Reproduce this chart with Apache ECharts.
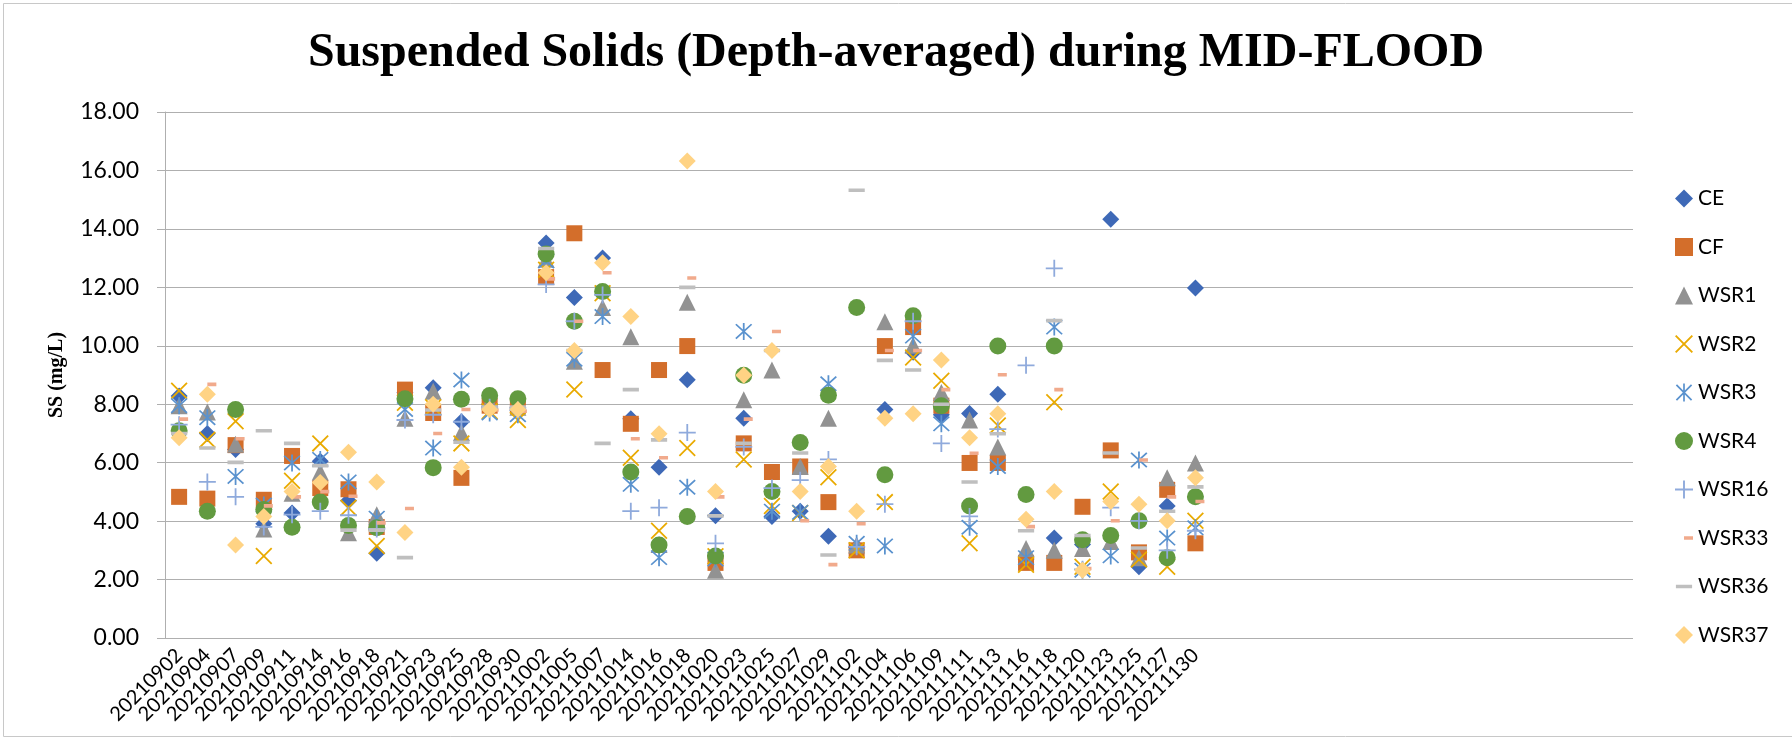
<!DOCTYPE html>
<html>
<head>
<meta charset="utf-8">
<title>Suspended Solids (Depth-averaged) during MID-FLOOD</title>
<script src="https://cdn.jsdelivr.net/npm/echarts/dist/echarts.min.js"></script>
<style>
  html, body { margin: 0; padding: 0; background: #fff; }
  #main { width: 1792px; height: 747px; }
</style>
</head>
<body>
<div id="main"></div>
<script>
  // sampling dates (Excel sheet had 15 more empty rows after the last date)
  var dates = ['20210902', '20210904', '20210907', '20210909', '20210911', '20210914', '20210916',
    '20210918', '20210921', '20210923', '20210925', '20210928', '20210930', '20211002', '20211005',
    '20211007', '20211014', '20211016', '20211018', '20211020', '20211023', '20211025', '20211027',
    '20211029', '20211102', '20211104', '20211106', '20211109', '20211111', '20211113', '20211116',
    '20211118', '20211120', '20211123', '20211125', '20211127', '20211130'];
  var emptyRows = 15;
  var yTicks = [0, 2, 4, 6, 8, 10, 12, 14, 16, 18];

  // SS (mg/L), one value per date
  var CE = [8.28, 7.0, 6.45, 3.91, 4.28, 6.05, 4.7, 2.9, 8.4, 8.56, 7.4, 8.0, 7.9, 13.52, 11.65, 13.0, 7.5, 5.84, 8.84,
    4.18, 7.52, 4.16, 4.34, 3.48, 3.1, 7.82, 9.78, 7.64, 7.68, 8.34, 2.7, 3.42, 3.2, 14.33, 2.44, 4.52, 11.98];
  var CF = [4.83, 4.77, 6.6, 4.73, 6.23, 5.13, 5.09, 3.8, 8.5, 7.7, 5.48, 7.95, 7.95, 12.35, 13.85, 9.17, 7.33, 9.17, 9.99,
    2.57, 6.66, 5.68, 5.87, 4.65, 3.0, 9.99, 10.64, 7.95, 5.99, 5.99, 2.57, 2.57, 4.49, 6.42, 2.93, 5.07, 3.24];
  var WSR1 = [7.95, 7.73, 6.63, 3.73, 4.95, 5.68, 3.6, 4.22, 7.52, 8.44, 7.03, 8.1, 7.9, 12.96, 9.47, 11.31, 10.31, 3.2, 11.49,
    2.32, 8.15, 9.17, 5.87, 7.52, 3.18, 10.82, 10.02, 8.4, 7.46, 6.54, 3.06, 3.0, 3.06, 3.3, 2.75, 5.48, 5.99];
  var WSR2 = [8.46, 6.78, 7.42, 2.81, 5.38, 6.66, 4.46, 3.15, 8.05, 7.9, 6.66, 7.76, 7.46, 12.6, 8.5, 11.8, 6.17, 3.67, 6.5,
    2.8, 6.11, 4.52, 4.28, 5.5, 3.0, 4.65, 9.6, 8.8, 3.24, 7.27, 2.51, 8.07, 2.44, 5.01, 2.69, 2.44, 4.01];
  var WSR3 = [7.95, 7.54, 5.53, 4.55, 5.99, 6.11, 5.34, 4.1, 7.82, 6.5, 8.83, 7.7, 7.64, 12.9, 9.54, 11.0, 5.26, 2.75, 5.16,
    2.7, 10.49, 4.34, 4.3, 8.7, 3.24, 3.15, 10.33, 7.33, 3.79, 5.87, 2.75, 10.64, 2.32, 2.81, 6.09, 3.42, 3.77];
  var WSR4 = [7.09, 4.34, 7.82, 4.4, 3.79, 4.65, 3.85, 3.77, 8.19, 5.83, 8.17, 8.3, 8.19, 13.14, 10.84, 11.86, 5.68, 3.18, 4.16,
    2.81, 8.99, 5.01, 6.69, 8.31, 11.31, 5.59, 11.03, 7.95, 4.52, 9.99, 4.91, 9.99, 3.36, 3.51, 4.01, 2.75, 4.83];
  var WSR16 = [7.3, 5.34, 4.83, 3.8, 4.22, 4.34, 4.2, 3.73, 7.46, 7.64, 7.4, 7.9, 7.8, 12.1, 10.84, 11.74, 4.34, 4.46, 7.03,
    3.24, 6.54, 5.13, 5.4, 6.11, 3.12, 4.58, 10.84, 6.66, 4.16, 7.15, 9.33, 12.65, 2.35, 4.46, 4.01, 3.0, 3.67];
  var WSR33 = [7.49, 8.68, 6.82, 4.52, 4.83, 5.01, 4.85, 3.94, 4.43, 7.0, 7.82, 7.8, 7.76, 12.29, 10.84, 12.5, 6.82, 6.17, 12.32,
    4.83, 7.49, 10.49, 4.01, 2.51, 3.91, 9.84, 9.84, 8.5, 6.32, 9.01, 3.81, 8.5, 2.38, 4.01, 6.09, 4.83, 4.67];
  var WSR36 = [7.0, 6.5, 6.01, 7.09, 6.66, 5.9, 3.69, 3.69, 2.75, 7.8, 6.7, 7.9, 7.9, 13.33, 9.84, 6.66, 8.5, 6.78, 12.0,
    4.18, 6.66, 9.84, 6.33, 2.84, 15.32, 9.5, 9.17, 8.0, 5.34, 6.99, 3.67, 10.86, 3.51, 6.33, 3.08, 4.34, 5.17];
  var WSR37 = [6.85, 8.34, 3.18, 4.16, 5.01, 5.32, 6.36, 5.34, 3.61, 8.0, 5.84, 7.82, 7.82, 12.5, 9.84, 12.84, 11.0, 6.99, 16.32,
    5.01, 8.99, 9.84, 5.01, 5.87, 4.34, 7.52, 7.67, 9.51, 6.85, 7.67, 4.06, 5.01, 2.32, 4.67, 4.58, 4.01, 5.48];

  var categories = dates.concat(new Array(emptyRows).fill(''));

  // excel style line markers, drawn as thin filled shapes
  var xMark = 'M1.36,2.64L17.36,18.64L18.64,17.36L2.64,1.36Z M17.36,1.36L1.36,17.36L2.64,18.64L18.64,2.64Z';
  var starMark = xMark + ' M9.1,0.5L9.1,19.5L10.9,19.5L10.9,0.5Z';
  var plusMark = 'M9.1,1.5L10.9,1.5L10.9,9.1L18.5,9.1L18.5,10.9L10.9,10.9L10.9,18.5L9.1,18.5L9.1,10.9L1.5,10.9L1.5,9.1L9.1,9.1Z';
  // dashes keep a 20x20 box so they stay thin (short dash sits right of centre like in Excel)
  var shortDash = 'M0,0Z M20,20Z M10,8L20,8L20,12L10,12Z';
  var longDash = 'M0,0Z M20,20Z M1,8L19,8L19,12L1,12Z';

  var seriesDefs = [
    { name: 'CE', data: CE, symbol: 'diamond', size: 17, color: '#3E69B7' },
    { name: 'CF', data: CF, symbol: 'rect', size: 16, color: '#D36E2B' },
    { name: 'WSR1', data: WSR1, symbol: 'triangle', size: 17, color: '#929292' },
    { name: 'WSR2', data: WSR2, symbol: 'path://' + xMark, size: 17, color: '#E9AA00' },
    { name: 'WSR3', data: WSR3, symbol: 'path://' + starMark, size: 17, color: '#5A92CE' },
    { name: 'WSR4', data: WSR4, symbol: 'circle', size: 17, color: '#629A40' },
    { name: 'WSR16', data: WSR16, symbol: 'path://' + plusMark, size: 17, color: '#8FAADC' },
    { name: 'WSR33', data: WSR33, symbol: 'path://' + shortDash, size: 18, color: '#F1AA8C' },
    { name: 'WSR36', data: WSR36, symbol: 'path://' + longDash, size: 18, color: '#BFBFBF' },
    { name: 'WSR37', data: WSR37, symbol: 'diamond', size: 17, color: '#FFD384' }
  ];

  var labelFont = 'Lato, "Noto Sans", sans-serif';
  var gridColor = '#AFAFAF';

  var myChart = echarts.init(document.getElementById('main'));
  myChart.setOption({
    animation: false,
    backgroundColor: '#fff',
    graphic: [{
      type: 'rect',
      silent: true,
      z: -10,
      shape: { x: 3.5, y: 3.5, width: 1800, height: 733 },
      style: { fill: 'none', stroke: '#C8C8C8', lineWidth: 1 }
    }],
    title: {
      text: 'Suspended Solids (Depth-averaged) during MID-FLOOD',
      left: 'center',
      top: 25,
      // a bit right of centre, as in the original
      padding: [5, 0, 5, 34],
      textStyle: {
        fontFamily: '"Liberation Serif", serif',
        fontWeight: 'bold',
        fontSize: 48,
        color: '#000'
      }
    },
    legend: {
      orient: 'vertical',
      left: 1670,
      top: 183,
      itemWidth: 18,
      itemHeight: 18,
      itemGap: 27.5,
      data: seriesDefs.map(function (s) { return s.name; }),
      textStyle: { fontFamily: labelFont, fontSize: 21, color: '#000' }
    },
    grid: {
      left: 165,
      right: 159,
      top: 112,
      bottom: 109,
      containLabel: false
    },
    xAxis: {
      type: 'category',
      data: categories,
      boundaryGap: true,
      axisLine: { show: false },
      axisTick: { show: false },
      axisLabel: {
        interval: 0,
        rotate: 45,
        margin: 14,
        fontFamily: labelFont,
        fontSize: 20,
        color: '#000'
      }
    },
    yAxis: {
      type: 'value',
      min: yTicks[0],
      max: yTicks[yTicks.length - 1],
      interval: yTicks[1] - yTicks[0],
      name: 'SS (mg/L)',
      nameLocation: 'middle',
      nameGap: 98,
      nameTextStyle: {
        fontFamily: '"Liberation Serif", serif',
        fontWeight: 'bold',
        fontSize: 20,
        color: '#000'
      },
      axisLine: { show: true, lineStyle: { color: gridColor, width: 1 } },
      axisTick: { show: true, length: 8, lineStyle: { color: gridColor } },
      splitLine: { lineStyle: { color: gridColor, width: 1 } },
      axisLabel: {
        margin: 26,
        fontFamily: labelFont,
        fontSize: 23,
        color: '#000',
        formatter: function (v) { return v.toFixed(2); }
      }
    },
    series: seriesDefs.map(function (s) {
      return {
        name: s.name,
        type: 'scatter',
        data: s.data,
        symbol: s.symbol,
        symbolSize: s.size,
        itemStyle: { color: s.color, opacity: 1 }
      };
    })
  });

  window.addEventListener('resize', function () {
    myChart.resize();
  });
</script>
</body>
</html>
